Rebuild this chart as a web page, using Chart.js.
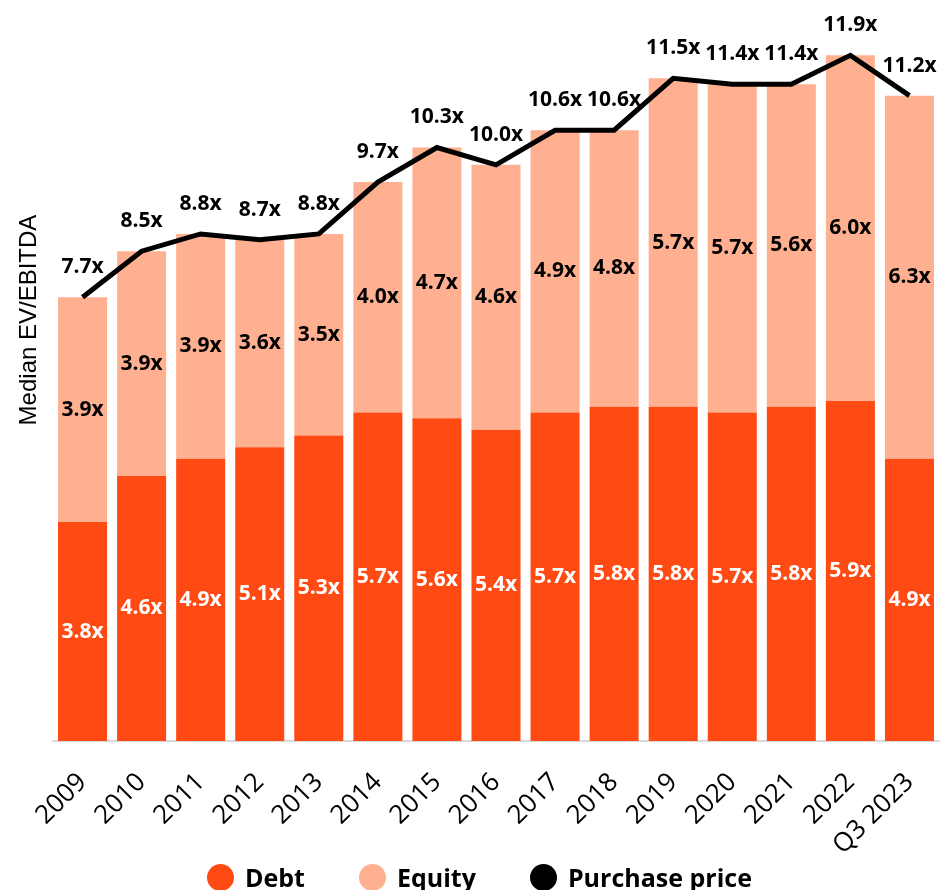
<!DOCTYPE html>
<html lang="en">
<head>
    <meta charset="UTF-8">
    <title>Median EV/EBITDA</title>
    <script src="https://cdn.jsdelivr.net/npm/chart.js"></script>
    <style>
        body {
            margin: 0;
            background-color: #fff;
        }

        #chart-container {
            width: 941px;
            height: 890px;
            position: relative;
            overflow: hidden;
        }

        #legend {
            position: absolute;
            top: 863px;
            left: 207px;
            height: 28px;
            display: flex;
            align-items: center;
            font-family: 'Open Sans', sans-serif;
            font-weight: bold;
            font-size: 25px;
            color: #000;
            white-space: nowrap;
        }

        #legend .item {
            display: flex;
            align-items: center;
            margin-right: 54px;
        }

        #legend .dot {
            width: 27px;
            height: 27px;
            border-radius: 50%;
            margin-right: 11px;
        }
    </style>
</head>
<body>
<div id="chart-container">
    <canvas id="evChart"></canvas>
    <div id="legend"></div>
</div>
<script>
    // Values
    var years = ["2009", "2010", "2011", "2012", "2013", "2014", "2015", "2016",
        "2017", "2018", "2019", "2020", "2021", "2022", "Q3 2023"];
    var debt = [3.8, 4.6, 4.9, 5.1, 5.3, 5.7, 5.6, 5.4, 5.7, 5.8, 5.8, 5.7, 5.8, 5.9, 4.9];
    var equity = [3.9, 3.9, 3.9, 3.6, 3.5, 4.0, 4.7, 4.6, 4.9, 4.8, 5.7, 5.7, 5.6, 6.0, 6.3];
    var purchasePrice = [7.7, 8.5, 8.8, 8.7, 8.8, 9.7, 10.3, 10.0, 10.6, 10.6, 11.5, 11.4, 11.4, 11.9, 11.2];

    var labelFont = "bold 21px 'Open Sans', sans-serif";

    // Draws the value labels and the rotated axis title
    var valueLabels = {
        id: "valueLabels",
        afterDatasetsDraw: function (chart) {
            var ctx = chart.ctx;
            ctx.save();
            ctx.font = labelFont;
            ctx.textAlign = "center";
            ctx.textBaseline = "middle";
            chart.data.datasets.forEach(function (ds, i) {
                var meta = chart.getDatasetMeta(i);
                meta.data.forEach(function (el, j) {
                    var text = ds.data[j].toFixed(1) + "x";
                    if (ds.type === "line") {
                        ctx.fillStyle = "#000";
                        ctx.fillText(text, el.x, el.y - 30);
                    } else {
                        ctx.fillStyle = ds.labelColor;
                        ctx.fillText(text, el.x, (el.y + el.base) / 2);
                    }
                });
            });

            ctx.translate(29, 320);
            ctx.rotate(-Math.PI / 2);
            ctx.font = "24px 'Liberation Sans', Arial, sans-serif";
            ctx.fillStyle = "#000";
            ctx.fillText("Median EV/EBITDA", 0, 0);
            ctx.restore();
        }
    };

    var ctx = document.getElementById("evChart").getContext("2d");
    var myChart = new Chart(ctx, {
        type: "bar",
        data: {
            labels: years,
            datasets: [
                {
                    label: "Debt",
                    data: debt,
                    backgroundColor: "#FF4A14",
                    labelColor: "#fff",
                    categoryPercentage: 1,
                    barPercentage: 0.83
                },
                {
                    label: "Equity",
                    data: equity,
                    backgroundColor: "#FFB091",
                    labelColor: "#000",
                    categoryPercentage: 1,
                    barPercentage: 0.83
                },
                {
                    type: "line",
                    label: "Purchase price",
                    data: purchasePrice,
                    borderColor: "#000",
                    backgroundColor: "#000",
                    borderWidth: 5,
                    pointRadius: 0,
                    tension: 0,
                    order: -1
                }
            ]
        },
        options: {
            responsive: true,
            maintainAspectRatio: false,
            animation: false,
            layout: {
                padding: {top: 0, left: 53, right: 2, bottom: 35}
            },
            scales: {
                x: {
                    stacked: true,
                    grid: {display: false},
                    border: {display: true, color: "#d9d9d9", width: 2},
                    ticks: {
                        color: "#000",
                        padding: 18,
                        minRotation: 45,
                        maxRotation: 45,
                        autoSkip: false,
                        font: {family: "'Open Sans', sans-serif", size: 26}
                    },
                    afterFit: function (scale) {
                        scale.height = 114;
                        scale.paddingLeft = 0;
                        scale.paddingRight = 0;
                    }
                },
                y: {
                    stacked: true,
                    display: false,
                    min: 0,
                    max: 12.86
                }
            },
            plugins: {
                tooltip: {enabled: false},
                legend: {display: false}
            }
        },
        plugins: [valueLabels]
    });

    // HTML legend built from the datasets
    var legendEl = document.getElementById("legend");
    myChart.data.datasets.forEach(function (ds) {
        var item = document.createElement("span");
        item.className = "item";
        var dot = document.createElement("span");
        dot.className = "dot";
        dot.style.backgroundColor = ds.backgroundColor;
        item.appendChild(dot);
        item.appendChild(document.createTextNode(ds.label));
        legendEl.appendChild(item);
    });
</script>
</body>
</html>
